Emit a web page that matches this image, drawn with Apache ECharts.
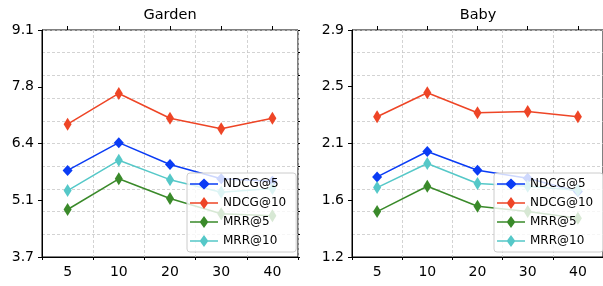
<!DOCTYPE html>
<html>
<head>
<meta charset="utf-8">
<script src="https://cdn.jsdelivr.net/npm/echarts@6/dist/echarts.min.js"></script>
<style>html,body{margin:0;padding:0;background:#fff}#c{width:603px;height:286px}</style>
</head>
<body>
<div id="c"></div>
<script>
// ---- data ----
const categories = ['5', '10', '20', '30', '40'];
const seriesNames = ['NDCG@5', 'NDCG@10', 'MRR@5', 'MRR@10'];

const gardenNdcg5  = [5.76, 6.42, 5.90, 5.56, 5.50];
const gardenNdcg10 = [6.86, 7.59, 7.00, 6.75, 7.00];
const gardenMrr5   = [4.83, 5.56, 5.09, 4.73, 4.68];
const gardenMrr10  = [5.28, 6.00, 5.54, 5.24, 5.33];

const babyNdcg5  = [1.80, 1.99, 1.85, 1.79, 1.69];
const babyNdcg10 = [2.25, 2.43, 2.28, 2.29, 2.25];
const babyMrr5   = [1.54, 1.73, 1.58, 1.54, 1.49];
const babyMrr10  = [1.72, 1.90, 1.75, 1.73, 1.70];

const gardenYTicks = [3.7, 5.05, 6.4, 7.75, 9.1];
const gardenYTickLabels = ['3.7', '5.1', '6.4', '7.8', '9.1'];
const babyYTicks = [1.2, 1.625, 2.05, 2.475, 2.9];
const babyYTickLabels = ['1.2', '1.6', '2.1', '2.5', '2.9'];

const panelTitles = ['Garden', 'Baby'];

// ---- styles ----
const FONT = 'DejaVu Sans';
const colors = ['#0a3cf5', '#ee4526', '#3a8a2a', '#55c8c8'];
const symbolSizes = [[10, 11], [8, 13], [8, 13], [8, 13]];
// legend icons: horizontal line + diamond (regular / thin)
const iconRegular = 'path://M0,5.25 L9,5.25 L14,0.5 L19,5.25 L28,5.25 L28,6.75 L19,6.75 L14,11.5 L9,6.75 L0,6.75 Z';
const iconThin = 'path://M0,5.25 L10.2,5.25 L14,0 L17.8,5.25 L28,5.25 L28,6.75 L17.8,6.75 L14,12 L10.2,6.75 L0,6.75 Z';
const legendIcons = [iconRegular, iconThin, iconThin, iconThin];
const gridBoxes = [
  {left: 42, top: 30, width: 256, height: 227},
  {left: 352, top: 30, width: 256, height: 227}
];
const legendBoxes = [{left: 187, top: 173}, {left: 494, top: 173}];

const chart = echarts.init(document.getElementById('c'), null, {renderer: 'canvas'});

const gridDash = {color: '#c8c8c8', type: [3, 2], width: 0.8};

function r4(x) { return Math.round(x * 1e6) / 1e6; }

const grids = [], xAxes = [], yAxes = [], series = [], legends = [], graphics = [];
const panelData = [
  [gardenNdcg5, gardenNdcg10, gardenMrr5, gardenMrr10],
  [babyNdcg5, babyNdcg10, babyMrr5, babyMrr10]
];
const panelTicks = [gardenYTicks, babyYTicks];
const panelLabels = [gardenYTickLabels, babyYTickLabels];

for (let p = 0; p < 2; p++) {
  const g = gridBoxes[p];
  grids.push(Object.assign({show: true, borderColor: '#000', borderWidth: 1, backgroundColor: 'transparent'}, g));
  xAxes.push({
    type: 'category', gridIndex: p, data: categories, boundaryGap: true,
    axisLine: {show: true, lineStyle: {color: '#000', width: 1}},
    axisTick: {show: true, alignWithLabel: false, length: 3, lineStyle: {color: '#000', width: 1}},
    axisLabel: {show: true, color: '#000', fontFamily: FONT, fontSize: 14, margin: 8},
    splitLine: {show: true, lineStyle: gridDash}
  });
  xAxes.push({
    type: 'category', gridIndex: p, data: categories, boundaryGap: true,
    axisLine: {show: false},
    axisTick: {show: true, alignWithLabel: true, length: 4, lineStyle: {color: '#000', width: 1}},
    axisLabel: {show: false},
    splitLine: {show: false}
  });
  const ticks = panelTicks[p], labels = panelLabels[p];
  const mn = ticks[0], mx = ticks[ticks.length - 1];
  const major = r4(ticks[1] - ticks[0]);
  const minor = r4((mx - mn) / 10);
  yAxes.push({
    type: 'value', gridIndex: p, min: mn, max: mx, interval: major,
    axisLine: {show: true, lineStyle: {color: '#000', width: 1}},
    axisTick: {show: true, length: 4, lineStyle: {color: '#000', width: 1}},
    axisLabel: {show: true, color: '#000', fontFamily: FONT, fontSize: 14, margin: 8,
      formatter: function (v) { return labels[Math.round((v - mn) / major)]; }},
    splitLine: {show: false}
  });
  yAxes.push({
    type: 'value', gridIndex: p, min: mn, max: mx, interval: minor,
    axisLine: {show: false},
    axisTick: {show: true, length: 2, lineStyle: {color: '#000', width: 1}},
    axisLabel: {show: false},
    splitLine: {show: true, lineStyle: gridDash}
  });
  for (let s = 0; s < 4; s++) {
    series.push({
      type: 'line', name: seriesNames[s], xAxisIndex: p * 2, yAxisIndex: p * 2,
      data: panelData[p][s], symbol: 'diamond', symbolSize: symbolSizes[s],
      color: colors[s], lineStyle: {color: colors[s], width: 1.5},
      itemStyle: {color: colors[s]}, animation: false, z: 3 + s
    });
  }
  legends.push({
    orient: 'vertical', left: legendBoxes[p].left, top: legendBoxes[p].top,
    data: seriesNames.map((n, i) => ({name: n, icon: legendIcons[i], itemStyle: {color: colors[i], borderWidth: 0}})),
    itemWidth: 28, itemHeight: 12, itemGap: 7,
    padding: [5, 10, 5, 3],
    backgroundColor: 'rgba(255,255,255,0.8)', borderColor: '#cccccc', borderWidth: 1, borderRadius: 3,
    textStyle: {fontFamily: FONT, fontSize: 12, color: '#000'},
    selectedMode: false, z: 10
  });
  graphics.push({
    type: 'text', x: g.left + g.width / 2 - (p === 1 ? 2 : 0), y: 15, z: 10,
    style: {text: panelTitles[p], fontFamily: FONT, fontSize: 14.5, fill: '#000', textAlign: 'center', textVerticalAlign: 'middle'}
  });
}

chart.setOption({
  animation: false,
  grid: grids, xAxis: xAxes, yAxis: yAxes, series: series, legend: legends, graphic: graphics
});
</script>
</body>
</html>
